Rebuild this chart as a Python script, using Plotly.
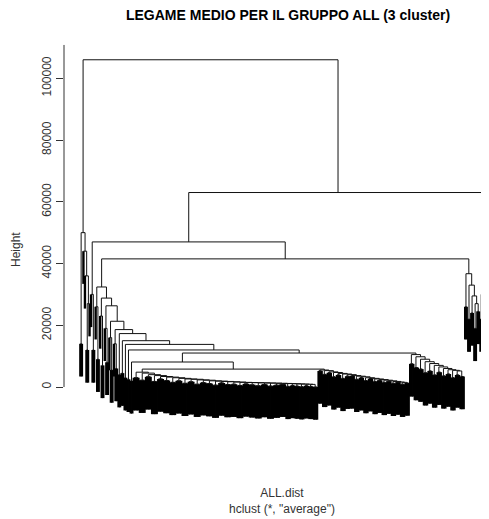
import plotly.graph_objects as go

# ---------------- data (heights) ----------------
# named upper merges of the tree
upper_names = ["root", "B", "C", "F", "X", "S", "R"]
upper_heights = [106000, 63000, 47000, 41500, 11000, 8100, 5800]

# each cluster: leaves per member, height where the member's leaves join, chain merge heights
A_size = [2, 1, 1, 2, 1]
A_low = [14000, 0, 0, 12000, 0]
A_join = [50000, 44000, 36000, 27000]

E_size = [1, 2]
E_low = [0, 12000]
E_join = [30000]

# left cascade of the big cluster (c0..c8); each member = one leaf + a pair,
# the last member of the cascade is node X
casc_size = [3, 3, 3, 3, 3, 2, 2, 2, 2]
casc_mid = [26000, 23000, 19000, 16000, 14000, 0, 0, 0, 0]
casc_low = [9000, 7000, 8000, 5500, 6000, 4000, 4500, 3000, 2500]
casc_join = [32400, 28800, 26300, 21300, 18600, 17300, 15000, 13800, 12000]

S_twig_size = [2]
S_twig_low = [2000]

main_size = [4] * 25 + [3] * 7
main_low = [3000, 2200, 3300, 1800, 2600, 2100, 1500, 2000, 1200, 1700, 900, 1400,
            1100, 600, 1300, 800, 900, 500, 1000, 700, 400, 800, 300, 600, 900, 200,
            500, 300, 100, 400, 200, 0]
main_join = [4800, 4500, 4000, 3700, 3400, 3200, 3000, 2800, 2600, 2500, 2300, 2200,
             2000, 1900, 1800, 1700, 1600, 1500, 1450, 1400, 1350, 1300, 1250, 1200,
             1150, 1100, 1050, 1000, 950, 900, 850]

blk2_size = [3] * 20
blk2_low = [5200, 4100, 4600, 3300, 3900, 2800, 3500, 3600, 2500, 3000, 2100, 2700,
            1800, 2200, 1500, 1900, 1200, 1600, 900, 1300]
blk2_join = [5500, 5300, 4900, 4700, 4400, 4200, 4000, 3700, 3500, 3300, 3000, 2800,
             2600, 2400, 2200, 2000, 1800, 1600, 1500]

blk3_size = [3] * 12
blk3_low = [7500, 6300, 5800, 4600, 5200, 3900, 4800, 3600, 4200, 3000, 3900, 3400]
blk3_join = [10500, 9800, 9000, 8200, 7600, 7000, 6500, 6000, 5600, 5400, 5200]

H_size = [2, 2, 2, 2, 1, 1]
H_low = [26000, 22000, 24000, 19000, 0, 0]
H_join = [36700, 33000, 29500, 27000, 24500]

# right-most cluster (members listed from the right)
D_size = [1, 2, 2, 1, 1]
D_low = [0, 12000, 16000, 0, 0]
D_join = [48600, 36000, 30000, 22000]

tick_values = [0, 20000, 40000, 60000, 80000, 100000]
tick_labels = ["0", "20000", "40000", "60000", "80000", "100000"]

title_text = "LEGAME MEDIO PER IL GRUPPO ALL (3 cluster)"
xlab_text = "ALL.dist"
sub_text = 'hclust (*, "average")'
ylab_text = "Height"

# ---------------- build tree ----------------
H_of = dict(zip(upper_names, upper_heights))


def leaf():
    return {"leaf": True}


def node(a, b, h):
    return {"leaf": False, "l": a, "r": b, "h": h}


def twig(k, low):
    if k == 1:
        return leaf()
    half = k // 2
    return node(twig(half, low), twig(k - half, low), low)


def chain_right(members, joins):
    cur = members[-1]
    for m, h in zip(reversed(members[:-1]), reversed(joins)):
        cur = node(m, cur, h)
    return cur


def chain_left(members, joins):
    cur = members[-1]
    for m, h in zip(reversed(members[:-1]), reversed(joins)):
        cur = node(cur, m, h)
    return cur


def twigs(sizes, lows):
    return [twig(s, lo) for s, lo in zip(sizes, lows)]


def casc_member(k, mid, low):
    if k >= 3:
        return node(leaf(), twig(k - 1, low), mid)
    return twig(k, low)


A = chain_right(twigs(A_size, A_low), A_join)
E = chain_right(twigs(E_size, E_low), E_join)
main = chain_right(twigs(main_size, main_low), main_join)
blk2 = chain_right(twigs(blk2_size, blk2_low), blk2_join)
blk3 = chain_right(twigs(blk3_size, blk3_low), blk3_join)
Hc = chain_right(twigs(H_size, H_low), H_join)
D = chain_left(twigs(D_size, D_low), D_join)

R = node(main, blk2, H_of["R"])
S = node(twig(S_twig_size[0], S_twig_low[0]), R, H_of["S"])
X = node(S, blk3, H_of["X"])
casc_members = [casc_member(k, m, lo) for k, m, lo in zip(casc_size, casc_mid, casc_low)]
G = chain_right(casc_members + [X], casc_join)
F = node(G, Hc, H_of["F"])
C = node(E, F, H_of["C"])
B = node(C, D, H_of["B"])
root = node(A, B, H_of["root"])

hang = 0.1 * H_of["root"]

counter = [0]


def place(n):
    if n["leaf"]:
        n["x"] = counter[0]
        counter[0] += 1
    else:
        place(n["l"])
        place(n["r"])
        n["x"] = (n["l"]["x"] + n["r"]["x"]) / 2


place(root)
N = counter[0]

bx, by, lx, ly = [], [], [], []


def draw(n):
    if n["leaf"]:
        return
    h = n["h"]
    for c in (n["l"], n["r"]):
        if c["leaf"]:
            lx.extend([c["x"], c["x"], None])
            ly.extend([h - hang, h, None])
        else:
            bx.extend([c["x"], c["x"], None])
            by.extend([c["h"], h, None])
            draw(c)
    bx.extend([n["l"]["x"], n["r"]["x"], None])
    by.extend([h, h, None])


draw(root)

# ---------------- figure ----------------
OFF = 8  # page body margin
IMG_W, IMG_H = 489, 519
W, Hpx = IMG_W - OFF, IMG_H - OFF
left_px, right_px, top_px, bot_px = 64, 489, 40, 440  # plot area in picture pixels
full_plot_px = 442  # R plot region width (the picture is cropped on the right)
span = 1.08 * (N - 1)
px_per = full_plot_px / span
x0 = -0.04 * (N - 1)
x_range = [x0, x0 + (right_px - left_px) / px_per]

zero_px = 387
px_per_unit = 3.087 / 1000
y_range = [-(bot_px - zero_px) / px_per_unit, (zero_px - top_px) / px_per_unit]

fig = go.Figure()
fig.add_trace(go.Scatter(x=lx, y=ly, mode="lines",
                         line=dict(color="#000000", width=2.4, simplify=False),
                         hoverinfo="skip", showlegend=False))
fig.add_trace(go.Scatter(x=bx, y=by, mode="lines",
                         line=dict(color="#111111", width=1, simplify=False),
                         hoverinfo="skip", showlegend=False))

font_family = "Liberation Sans, Arial, Helvetica, sans-serif"

fig.add_shape(type="line", xref="paper", yref="y", x0=0, x1=0,
              y0=0, y1=110800, line=dict(color="#333333", width=1))


def px2paper_x(px):
    return (px - left_px) / (right_px - left_px)


def px2paper_y(py):
    return (bot_px - py) / (bot_px - top_px)


fig.add_annotation(text=xlab_text + "<br>" + sub_text, xref="paper", yref="paper",
                   x=px2paper_x(282), y=px2paper_y(500.5), showarrow=False,
                   xanchor="center", yanchor="middle", align="center",
                   font=dict(family=font_family, size=12, color="#333333"))
fig.add_annotation(text=ylab_text, xref="paper", yref="paper",
                   x=px2paper_x(16), y=px2paper_y(250), showarrow=False,
                   textangle=-90, xanchor="center", yanchor="middle",
                   font=dict(family=font_family, size=12, color="#333333"))

fig.update_layout(
    width=W, height=Hpx,
    margin=dict(l=left_px - OFF, r=IMG_W - right_px, t=top_px - OFF,
                b=IMG_H - bot_px, pad=0),
    paper_bgcolor="white", plot_bgcolor="white",
    title=dict(text="<b>" + title_text + "</b>", xref="container", yref="container",
               x=(288 - OFF) / W, y=1 - (15.5 - OFF) / Hpx,
               xanchor="center", yanchor="middle",
               font=dict(family=font_family, size=14, color="#000000")),
    xaxis=dict(range=x_range, visible=False, fixedrange=True),
    yaxis=dict(range=y_range, tickmode="array", tickvals=tick_values,
               ticktext=tick_labels, tickangle=-90, ticks="outside", ticklen=7,
               tickcolor="#333333", tickwidth=1, showgrid=False, zeroline=False,
               showline=False, fixedrange=True,
               tickfont=dict(family=font_family, size=12, color="#333333")),
    showlegend=False,
)

fig.write_html("out.html")
